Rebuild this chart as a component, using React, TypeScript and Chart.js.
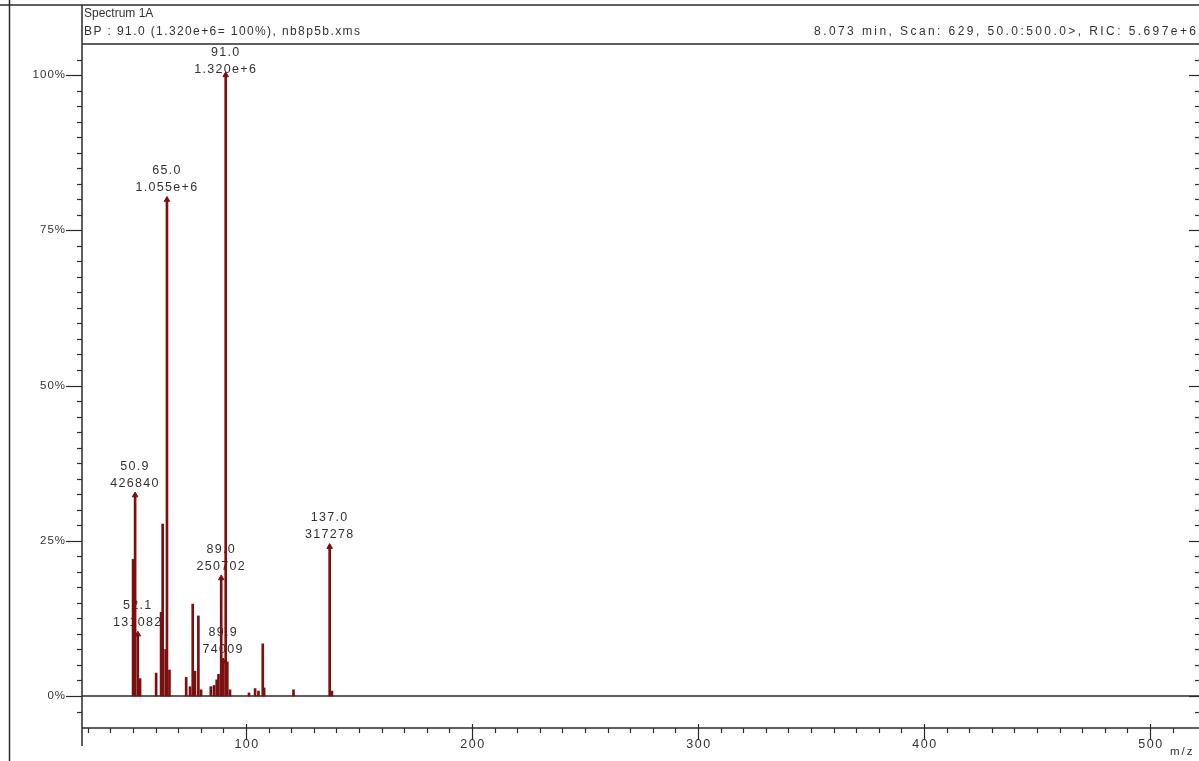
import { useEffect, useRef } from "react";
import { Chart, registerables } from "chart.js";

Chart.register(...registerables);

// Base peak intensity (m/z 91.0) = 100 %
const basePeakIntensity = 1320000;

// Centroided spectrum: m/z and absolute intensity (counts)
const peakMz = [
  50.0, 50.9, 52.1, 53.1, 60.2, 62.4, 63.1, 64.4, 65.0, 66.1,
  73.5, 75.2, 76.4, 77.4, 78.9, 80.1, 84.4, 85.8, 87.0, 87.8,
  89.0, 89.9, 91.0, 91.7, 92.9, 101.3, 104.0, 105.5, 107.4, 108.0,
  121.0, 137.0, 138.0,
];
const peakIntensity = [
  290400, 426840, 131082, 37000, 48800, 178000, 365600, 99000, 1055000, 55400,
  39600, 19800, 195400, 52800, 170300, 13200, 19800, 22400, 34300, 46200,
  250702, 74009, 1320000, 72600, 13200, 6600, 15800, 10600, 110900, 17200,
  13200, 317278, 10600,
];

// Annotated peaks
const labeledMz = [50.9, 52.1, 65.0, 89.0, 89.9, 91.0, 137.0];

// Axis ticks
const yTickValues = [0, 25, 50, 75, 100];
const xTickValues = [100, 200, 300, 400, 500];

// Header texts
const titleText = "Spectrum 1A";
const basePeakText = "BP : 91.0 (1.320e+6= 100%), nb8p5b.xms";
const scanText = "8.073 min, Scan: 629, 50.0:500.0>, RIC: 5.697e+6";
const xAxisTitle = "m/z";

const PEAK_COLOR = "#7a1010";
const INK = "#2a2a2a";
const TEXT = "#333333";

const toPercent = (v: number) => (100 * v) / basePeakIntensity;
const formatIntensity = (v: number) =>
  v >= 1e6 ? v.toExponential(3) : String(Math.round(v));

function fitText(
  ctx: CanvasRenderingContext2D,
  text: string,
  x: number,
  y: number,
  align: CanvasTextAlign,
  width: number
) {
  ctx.letterSpacing = "0px";
  const w = ctx.measureText(text).width;
  const sp = Math.max(0, (width - w) / Math.max(1, text.length - 1));
  ctx.letterSpacing = sp.toFixed(2) + "px";
  ctx.textAlign = align;
  ctx.fillText(text, align === "right" ? x + sp : x, y);
  ctx.letterSpacing = "0px";
}

const spectrumFrame = {
  id: "spectrumFrame",
  beforeDatasetsDraw(chart: any) {
    const { ctx, scales } = chart;
    const xs = scales.x;
    const ys = scales.y;
    const W = chart.width;
    const H = chart.height;
    const ca = chart.chartArea;

    ctx.save();
    ctx.strokeStyle = INK;
    ctx.lineWidth = 1.5;
    const line = (x1: number, y1: number, x2: number, y2: number) => {
      ctx.beginPath();
      ctx.moveTo(x1, y1);
      ctx.lineTo(x2, y2);
      ctx.stroke();
    };

    // outer frame and header rule
    line(0, 5, W, 5);
    line(9.5, 0, 9.5, H);
    line(ca.left, 5, ca.left, 746);
    line(ca.left, ca.top, W, ca.top);
    // x axis
    line(ca.left, ca.bottom, W, ca.bottom);
    // zero line
    const y0 = ys.getPixelForValue(0);
    line(ca.left, y0, W, y0);

    // y ticks (left and right)
    ctx.lineWidth = 1.2;
    for (let v = -2.5; v <= 102.5; v += 2.5) {
      const py = Math.round(ys.getPixelForValue(v)) + 0.5;
      const major = yTickValues.includes(v);
      line(major ? ca.left - 16 : ca.left - 5, py, ca.left, py);
      line(major ? W - 10 : W - 4, py, W, py);
    }
    // x ticks
    for (let v = 30; v <= 510; v += 10) {
      const px = Math.round(xs.getPixelForValue(v)) + 0.5;
      const major = xTickValues.includes(v);
      if (major) line(px, ca.bottom - 4, px, ca.bottom + 12);
      else line(px, ca.bottom, px, ca.bottom + 5);
    }

    // tick labels
    ctx.fillStyle = TEXT;
    ctx.font = "11.5px 'Liberation Sans', Arial, sans-serif";
    ctx.textBaseline = "middle";
    ctx.textAlign = "right";
    ctx.letterSpacing = "1px";
    yTickValues.forEach((v) => {
      ctx.fillText(v + "%", ca.left - 16, ys.getPixelForValue(v));
    });
    ctx.font = "12.5px 'Liberation Sans', Arial, sans-serif";
    ctx.textAlign = "center";
    ctx.letterSpacing = "1.5px";
    xTickValues.forEach((v) => {
      ctx.fillText(String(v), xs.getPixelForValue(v) + 1, ca.bottom + 17);
    });
    ctx.textAlign = "left";
    ctx.font = "11.5px 'Liberation Sans', Arial, sans-serif";
    ctx.letterSpacing = "2px";
    ctx.fillText(xAxisTitle, 1170, 752);

    // header
    ctx.font = "12px 'Liberation Sans', Arial, sans-serif";
    fitText(ctx, titleText, ca.left + 2, 14, "left", 58);
    fitText(ctx, basePeakText, ca.left + 2, 32, "left", 276);
    fitText(ctx, scanText, W - 3, 32, "right", 382);

    // peak annotations
    ctx.font = "12.5px 'Liberation Sans', Arial, sans-serif";
    ctx.letterSpacing = "1.3px";
    ctx.textAlign = "center";
    labeledMz.forEach((mz) => {
      const i = peakMz.indexOf(mz);
      const inten = peakIntensity[i];
      const px = xs.getPixelForValue(mz);
      const top = ys.getPixelForValue(toPercent(inten));
      let l1 = top - 29;
      let l2 = top - 12;
      if (l1 < ca.top + 9) {
        const d = ca.top + 9 - l1;
        l1 += d;
        l2 += d;
      }
      ctx.fillText(mz.toFixed(1), px, l1);
      ctx.fillText(formatIntensity(inten), px, l2);
    });
    ctx.restore();
  },
};

export default function App() {
  const canvasRef = useRef<HTMLCanvasElement | null>(null);

  useEffect(() => {
    const canvas = canvasRef.current;
    if (!canvas) return;

    const bars = peakMz.map((mz, i) => ({ x: mz, y: toPercent(peakIntensity[i]) }));
    const markers = labeledMz.map((mz) => ({
      x: mz,
      y: toPercent(peakIntensity[peakMz.indexOf(mz)]),
    }));

    const chart = new Chart(canvas, {
      type: "bar",
      data: {
        datasets: [
          {
            type: "scatter",
            data: markers,
            pointStyle: "triangle",
            pointRadius: 3.2,
            backgroundColor: PEAK_COLOR,
            borderColor: PEAK_COLOR,
            borderWidth: 1,
            order: 0,
          } as any,
          {
            type: "bar",
            data: bars,
            backgroundColor: PEAK_COLOR,
            borderWidth: 0,
            barThickness: 2,
            grouped: false,
            order: 1,
          } as any,
        ],
      },
      options: {
        responsive: false,
        animation: false,
        events: [],
        layout: { padding: { top: 44, right: 5, left: 0, bottom: 0 } },
        plugins: {
          legend: { display: false },
          tooltip: { enabled: false },
        },
        scales: {
          x: {
            type: "linear",
            min: 27.4,
            max: 519.5,
            offset: false,
            grid: { display: false, drawTicks: false },
            border: { display: false },
            ticks: { display: false },
            afterFit: (s: any) => {
              s.height = 33;
            },
          },
          y: {
            type: "linear",
            min: -5.15,
            max: 105,
            grid: { display: false, drawTicks: false },
            border: { display: false },
            ticks: { display: false },
            afterFit: (s: any) => {
              s.width = 82;
            },
          },
        },
      } as any,
      plugins: [spectrumFrame],
    });

    return () => chart.destroy();
  }, []);

  return (
    <div style={{ position: "fixed", left: 0, top: 0, width: 1199, height: 761, background: "#fff" }}>
      <canvas ref={canvasRef} width={1199} height={761} style={{ display: "block" }} />
    </div>
  );
}
